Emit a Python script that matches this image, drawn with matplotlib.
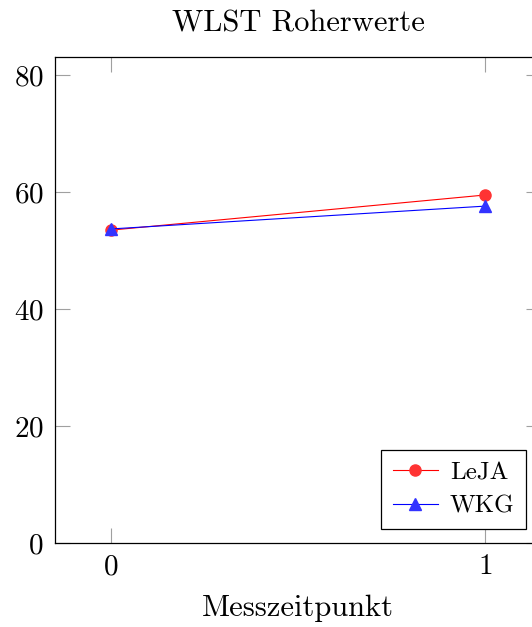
import matplotlib
matplotlib.use("Agg")
import matplotlib.pyplot as plt

plt.rcParams["font.family"] = ["cmr10", "DejaVu Serif"]
plt.rcParams["axes.formatter.use_mathtext"] = True
plt.rcParams["mathtext.fontset"] = "cm"

zeitpunkt = [0, 1]
leja = [53.5, 59.5]
wkg = [53.7, 57.6]
series_labels = ["LeJA", "WKG"]

fig = plt.figure(figsize=(5.32, 6.27), dpi=100)
ax = fig.add_axes([55 / 532, 84 / 627, 486 / 532, 486 / 627])

ax.plot(zeitpunkt, leja, color="#ff0000", lw=0.8, marker="o", ms=8,
        mfc="#ff3333", mec="#ff3333", label=series_labels[0])
ax.plot(zeitpunkt, wkg, color="#0000ff", lw=0.8, marker="^", ms=8,
        mfc="#3333ff", mec="#3333ff", label=series_labels[1])

ax.set_xlim(-0.15, 1.15)
ax.set_ylim(0, 83.1)
ax.set_xticks([0, 1])
ax.set_yticks([0, 20, 40, 60, 80])
ax.tick_params(direction="in", length=11, width=0.8, color="#a0a0a0",
               labelsize=21, top=True, right=True, pad=8)
for s in ax.spines.values():
    s.set_linewidth(0.9)

ax.set_xlabel("Messzeitpunkt", fontsize=22, labelpad=10)
ax.set_title("WLST Roherwerte", fontsize=22, pad=18)

leg = ax.legend(loc="lower right", bbox_to_anchor=((526 - 55) / 486, 14 / 486),
                fontsize=18, fancybox=False, edgecolor="black", framealpha=1,
                handlelength=1.8, borderpad=0.45, labelspacing=0.45, handletextpad=0.5,
                borderaxespad=0)
leg.get_frame().set_linewidth(0.9)

fig.savefig("out.png", dpi=100)
